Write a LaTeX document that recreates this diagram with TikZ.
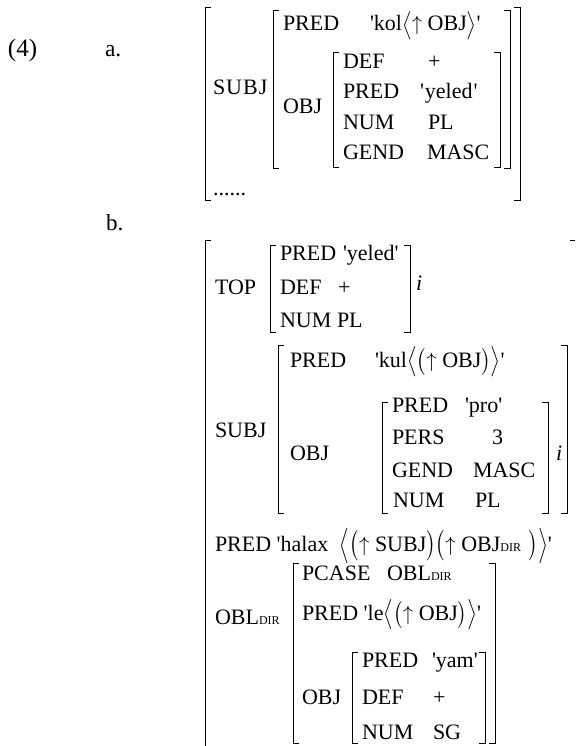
\documentclass[tikz,border=0pt]{standalone}
\usepackage{amsmath}
\usepackage{graphicx}
\usepackage{fontspec}
\setmainfont{Liberation Serif}
\newcommand\sq{\textquotesingle}
\newcommand\dirsub{{\fontsize{12}{12}\selectfont DIR}}
\newcommand\dl[3]{\raisebox{#2pt}{\scalebox{1}[#1]{$\big#3$}}}
\newcommand\up{$\uparrow$}
\newcommand\LB[3]{\draw[brk] (#1+6,#2) -- (#1,#2) -- (#1,#3) -- (#1+6,#3);}
\newcommand\RB[3]{\draw[brk] (#1-6,#2) -- (#1,#2) -- (#1,#3) -- (#1-6,#3);}
\begin{document}
\begin{tikzpicture}[x=1pt,y=-1pt,
  t/.style={anchor=base west, inner sep=0pt, outer sep=0pt, font=\fontsize{22}{26}\selectfont},
  brk/.style={line width=0.8pt, black}]
\useasboundingbox (0,0) rectangle (576,746);
% ---------- (a)
\node[t, font=\fontsize{25}{29}\selectfont] (n4) at (8,57) {(4)};
\node[t, font=\fontsize{23.5}{27}\selectfont] (na) at (105,57) {a.};
\LB{205}{7}{200} \RB{520}{7}{200}
\node[t] (asubj) at (213,95) {S\kern1pt U\kern1pt B\kern1pt J};
\LB{273}{10}{168} \RB{510}{10}{168}
\node[t] (apred) at (283,31) {PRED};
\node[t] (akol) at (370,31) {\sq kol\dl{1.14}{-0.8}{\langle}\up\ OBJ\dl{1.14}{-0.8}{\rangle}\sq};
\node[t] (aobj) at (283,114) {OBJ};
\LB{333}{52}{167} \RB{500}{52}{167}
\node[t] (adef) at (343,69) {DEF};
\node[t] (adefv) at (428,69) {+};
\node[t] (apr2) at (343,99) {PRED};
\node[t] (apr2v) at (420,99) {\sq\kern1pt yeled\kern1pt\sq};
\node[t] (anum) at (343,130) {NUM};
\node[t] (anumv) at (428,130) {PL};
\node[t] (agend) at (343,160) {GEND};
\node[t] (agendv) at (427,160) {MASC};
\node[t] (adots) at (213,195) {......};
% ---------- (b)
\node[t, font=\fontsize{23}{27}\selectfont] (nb) at (106,230) {b.};
\draw[brk] (211,240) -- (205,240) -- (205,746);
\draw[brk] (570,240) -- (575,240);
\node[t] (btop) at (215,294) {TOP};
\LB{270}{245}{332} \RB{410}{245}{332}
\node[t] (btp) at (280,260) {PRED};
\node[t] (btpv) at (343,260) {\sq yeled\sq};
\node[t] (btd) at (280,294) {DEF};
\node[t] (btdv) at (338,294) {+};
\node[t] (btn) at (280,327) {NUM};
\node[t] (btnv) at (337,327) {PL};
\node[t] (bi1) at (416,290) {\itshape i};
\LB{278}{345}{513} \RB{567}{345}{513}
\node[t] (bsp) at (290,367) {PRED};
\node[t] (bspv) at (375,367) {\sq kul\dl{1.22}{-1.2}{\langle}\dl{1.08}{-0.4}{(}\up\ OBJ\dl{1.08}{-0.4}{)}\dl{1.22}{-1.2}{\rangle}\sq};
\node[t] (bsubj) at (215,437) {SUBJ};
\node[t] (bobj) at (290,460) {OBJ};
\LB{382}{402}{513} \RB{548}{402}{513}
\node[t] (bop) at (392,412) {PRED};
\node[t] (bopv) at (465,412) {\sq pro\sq};
\node[t] (bopr) at (392,444) {PERS};
\node[t] (boprv) at (492,444) {3};
\node[t] (bog) at (392,477) {GEND};
\node[t] (bogv) at (473,477) {MASC};
\node[t] (bon) at (393,507) {NUM};
\node[t] (bonv) at (475,507) {PL};
\node[t] (bi2) at (556,460) {\itshape i};
\node[t] (bhalax) at (215,551) {PRED \sq halax \kern6pt\dl{1.42}{-2.3}{\langle}\dl{1.22}{-1.2}{(}\up\ SUBJ\dl{1.22}{-1.2}{)}\dl{1.22}{-1.2}{(}\up\ OBJ\dirsub\ \kern2pt\dl{1.22}{-1.2}{)}\dl{1.42}{-2.3}{\rangle}\sq};
\node[t] (bobl) at (215,624) {OBL\dirsub};
\LB{293}{563}{743} \RB{495}{563}{743}
\node[t] (bpc) at (302,580) {PCASE};
\node[t] (bpcv) at (387,580) {OBL\dirsub};
\node[t] (ble) at (302,620) {PRED \sq le\dl{1.22}{-1.2}{\langle}\dl{1.08}{-0.4}{(}\up\ OBJ\dl{1.08}{-0.4}{)}\dl{1.22}{-1.2}{\rangle}\sq};
\node[t] (bobj2) at (302,704) {OBJ};
\LB{352}{652}{743} \RB{485}{652}{743}
\node[t] (byp) at (362,667) {PRED};
\node[t] (bypv) at (432,667) {\sq yam\sq};
\node[t] (byd) at (362,704) {DEF};
\node[t] (bydv) at (433,704) {+};
\node[t] (byn) at (362,739) {NUM};
\node[t] (bynv) at (433,739) {SG};
\end{tikzpicture}
\end{document}
